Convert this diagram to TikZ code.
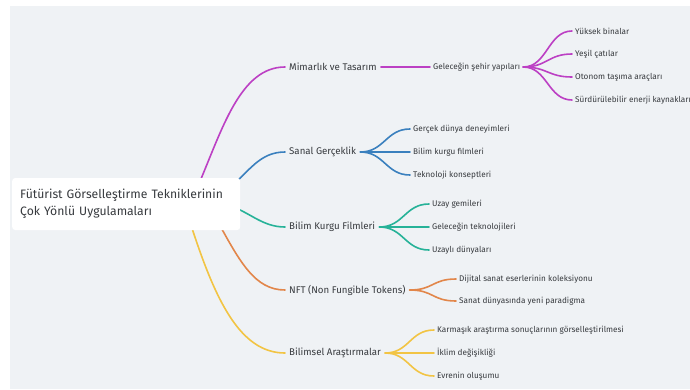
\documentclass[tikz,border=0pt]{standalone}
\usepackage{fontspec}
\setmainfont{Fira Sans}
\usetikzlibrary{calc}
\definecolor{bgc}{RGB}{239,242,245}
\definecolor{txt}{RGB}{55,58,62}
\definecolor{cpur}{RGB}{188,64,196}
\definecolor{cblu}{RGB}{58,128,190}
\definecolor{cteal}{RGB}{38,178,152}
\definecolor{corg}{RGB}{226,134,74}
\definecolor{cyel}{RGB}{242,196,68}
\tikzset{
  rootbox/.style={draw=none,fill=white,rounded corners=3pt,align=left,anchor=west,
    text=txt,font=\fontsize{12.2}{17}\selectfont,text width=212pt,minimum height=52pt,inner xsep=8pt},
  branch/.style={anchor=west,text=txt,font=\fontsize{9.7}{11}\selectfont,inner xsep=4pt,inner ysep=1pt},
  leaf/.style={anchor=west,text=txt,font=\fontsize{8.2}{10}\selectfont,inner xsep=3pt,inner ysep=1pt},
  conn/.style={line width=1.6pt,line cap=round},
}
\newcommand{\fan}[3]{\draw[conn,#1] (#2.east) .. controls +(24,0) and +(-24,0) .. (#3.west);}
\begin{document}
\begin{tikzpicture}[x=1pt,y=-1pt]
\useasboundingbox (0,0) rectangle (690,389);
\fill[white] (0,0) rectangle (690,389);
\fill[bgc] (10,6) rectangle (690,389);

% root attachment points (hidden behind the box)
\coordinate (rp) at (198,186);
\coordinate (rb) at (226,192);
\coordinate (rt) at (226,204);
\coordinate (ro) at (218,222);
\coordinate (ry) at (190,222);

% branches
\node[branch] (b1) at (285,67) {Mimarlık ve Tasarım};
\node[branch] (b2) at (285,152) {Sanal Gerçeklik};
\node[branch] (b3) at (285,227) {Bilim Kurgu Filmleri};
\node[branch] (b4) at (285,290) {NFT (Non Fungible Tokens)};
\node[branch] (b5) at (285,353) {Bilimsel Araştırmalar};

\draw[conn,cpur] (rp) .. controls (222,130) and (240,67) .. (b1.west);
\draw[conn,cblu] (rb) .. controls (250,170) and (260,152) .. (b2.west);
\draw[conn,cteal] (rt) .. controls (250,212) and (262,227) .. (b3.west);
\draw[conn,corg] (ro) .. controls (240,262) and (255,290) .. (b4.west);
\draw[conn,cyel] (ry) .. controls (215,300) and (240,353) .. (b5.west);

\node[rootbox] (root) at (12,204) {Fütürist Görselleştirme Tekniklerinin\\Çok Yönlü Uygulamaları};

% Mimarlık
\node[leaf] (m0) at (430,67) {Geleceğin şehir yapıları};
\draw[conn,cpur] (b1.east) -- (m0.west);
\node[leaf] (m1) at (572,31) {Yüksek binalar};
\node[leaf] (m2) at (572,54) {Yeşil çatılar};
\node[leaf] (m3) at (572,77) {Otonom taşıma araçları};
\node[leaf] (m4) at (572,100) {Sürdürülebilir enerji kaynakları};
\fan{cpur}{m0}{m1}\fan{cpur}{m0}{m2}\fan{cpur}{m0}{m3}\fan{cpur}{m0}{m4}

% Sanal
\node[leaf] (s1) at (410,129) {Gerçek dünya deneyimleri};
\node[leaf] (s2) at (410,152) {Bilim kurgu filmleri};
\node[leaf] (s3) at (410,175) {Teknoloji konseptleri};
\fan{cblu}{b2}{s1}\fan{cblu}{b2}{s2}\fan{cblu}{b2}{s3}

% Bilim Kurgu
\node[leaf] (k1) at (429,204) {Uzay gemileri};
\node[leaf] (k2) at (429,227) {Geleceğin teknolojileri};
\node[leaf] (k3) at (429,250) {Uzaylı dünyaları};
\fan{cteal}{b3}{k1}\fan{cteal}{b3}{k2}\fan{cteal}{b3}{k3}

% NFT
\node[leaf] (n1) at (456,279) {Dijital sanat eserlerinin koleksiyonu};
\node[leaf] (n2) at (456,301) {Sanat dünyasında yeni paradigma};
\fan{corg}{b4}{n1}\fan{corg}{b4}{n2}

% Bilimsel
\node[leaf] (y1) at (434,330) {Karmaşık araştırma sonuçlarının görselleştirilmesi};
\node[leaf] (y2) at (434,353) {İklim değişikliği};
\node[leaf] (y3) at (434,376) {Evrenin oluşumu};
\fan{cyel}{b5}{y1}\fan{cyel}{b5}{y2}\fan{cyel}{b5}{y3}
\end{tikzpicture}
\end{document}
